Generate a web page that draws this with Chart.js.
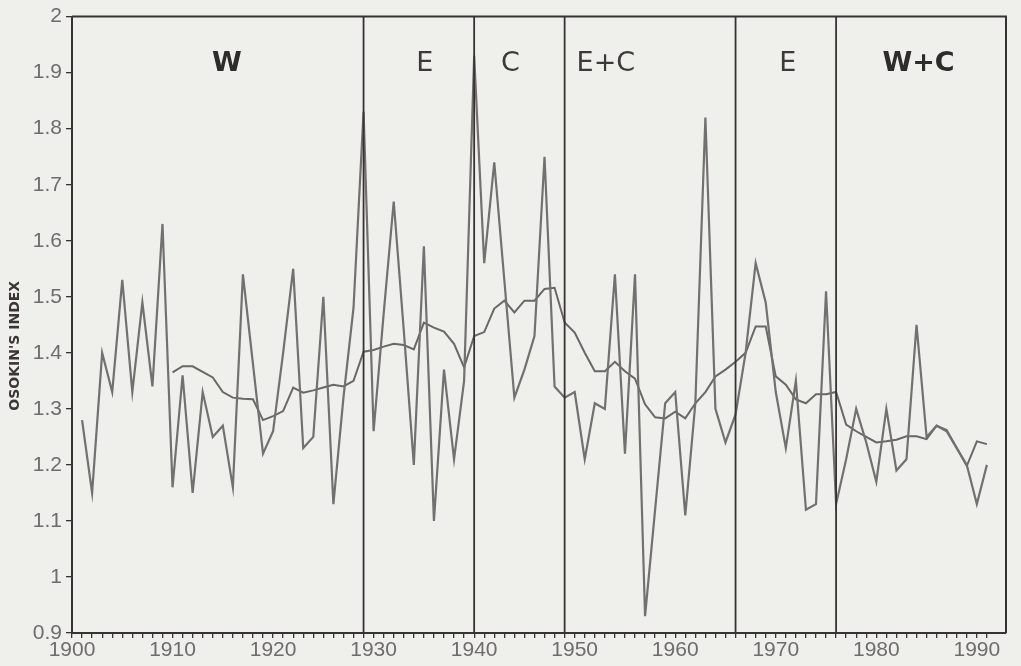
<!DOCTYPE html>
<html>
<head>
<meta charset="utf-8">
<script src="https://cdn.jsdelivr.net/npm/chart.js@4.4.1/dist/chart.umd.min.js"></script>
<style>
html,body{margin:0;padding:0;background:#efefeb;}
canvas{display:block;}
</style>
</head>
<body>
<canvas id="c" width="1021" height="666"></canvas>
<script>
// ---- data ----
const years = [
 1901,1902,1903,1904,1905,1906,1907,1908,1909,1910,
 1911,1912,1913,1914,1915,1916,1917,1918,1919,1920,
 1921,1922,1923,1924,1925,1926,1927,1928,1929,1930,
 1931,1932,1933,1934,1935,1936,1937,1938,1939,1940,
 1941,1942,1943,1944,1945,1946,1947,1948,1949,1950,
 1951,1952,1953,1954,1955,1956,1957,1958,1959,1960,
 1961,1962,1963,1964,1965,1966,1967,1968,1969,1970,
 1971,1972,1973,1974,1975,1976,1977,1978,1979,1980,
 1981,1982,1983,1984,1985,1986,1987,1988,1989,1990,
 1991
];
const osokinIndex = [
 1.28,1.15,1.40,1.33,1.53,1.33,1.49,1.34,1.63,1.16,
 1.36,1.15,1.33,1.25,1.27,1.16,1.54,1.38,1.22,1.26,
 1.40,1.55,1.23,1.25,1.50,1.13,1.32,1.48,1.83,1.26,
 1.47,1.67,1.44,1.20,1.59,1.10,1.37,1.21,1.35,1.93,
 1.56,1.74,1.53,1.32,1.37,1.43,1.75,1.34,1.32,1.33,
 1.21,1.31,1.30,1.54,1.22,1.54,0.93,1.12,1.31,1.33,
 1.11,1.31,1.82,1.30,1.24,1.29,1.40,1.56,1.49,1.33,
 1.23,1.35,1.12,1.13,1.51,1.13,1.21,1.30,1.24,1.17,
 1.30,1.19,1.21,1.45,1.25,1.27,1.26,1.23,1.20,1.13,
 1.20
];
const runningMean = [
 null,null,null,null,null,null,null,null,null,1.365,
 1.376,1.376,1.366,1.356,1.330,1.320,1.318,1.317,1.280,1.287,
 1.296,1.338,1.329,1.333,1.338,1.343,1.340,1.350,1.402,1.405,
 1.411,1.416,1.414,1.406,1.454,1.445,1.438,1.416,1.374,1.430,
 1.437,1.479,1.493,1.472,1.493,1.493,1.514,1.516,1.454,1.436,
 1.400,1.367,1.367,1.384,1.367,1.354,1.308,1.285,1.283,1.295,
 1.283,1.310,1.330,1.358,1.370,1.384,1.400,1.447,1.447,1.358,
 1.343,1.317,1.310,1.326,1.326,1.330,1.272,1.260,1.250,1.240,
 1.242,1.245,1.251,1.251,1.246,1.270,1.262,1.230,1.198,1.242,
 1.237
];
const xTickLabels = ['1900','1910','1920','1930','1940','1950','1960','1970','1980','1990'];
const yTickValues = [0.9,1,1.1,1.2,1.3,1.4,1.5,1.6,1.7,1.8,1.9,2];
const yTickLabels = ['0.9','1','1.1','1.2','1.3','1.4','1.5','1.6','1.7','1.8','1.9','2'];
const epochBoundaryYears = [1929, 1940, 1949, 1966, 1976];
const periodNames = ['W','E','C','E+C','E','W+C'];
const periodLabelYears = [1915.4, 1935.1, 1943.6, 1953.1, 1971.2, 1984.2];
const periodLabelLevel = 1.915;
const axisTitle = "OSOKIN'S INDEX";

// ---- drawing ----
const INK = '#383333';
const minorTickYears = [1900].concat(years);

const decorations = {
  id: 'decorations',
  beforeDraw(chart) {
    const c = chart.ctx;
    c.save();
    c.fillStyle = '#efefeb';
    c.fillRect(0, 0, chart.width, chart.height);
    c.restore();
  },
  afterDatasetsDraw(chart) {
    const c = chart.ctx, a = chart.chartArea;
    const xs = chart.scales.x, ys = chart.scales.y;
    c.save();
    // frame top + right
    c.strokeStyle = INK;
    c.lineWidth = 2;
    c.beginPath();
    c.moveTo(a.left, a.top);
    c.lineTo(a.right, a.top);
    c.lineTo(a.right, a.bottom);
    c.stroke();
    // epoch boundaries
    c.lineWidth = 1.8;
    epochBoundaryYears.forEach(yr => {
      const px = xs.getPixelForValue(yr);
      c.beginPath();
      c.moveTo(px, a.top);
      c.lineTo(px, a.bottom);
      c.stroke();
    });
    // period labels
    c.textAlign = 'center';
    c.textBaseline = 'middle';
    periodNames.forEach((name, i) => {
      const bold = name.startsWith('W');
      c.font = (bold ? 'bold ' : '') + '27px "DejaVu Sans", sans-serif';
      c.fillStyle = bold ? '#2e2b2b' : '#3d3939';
      c.fillText(name, xs.getPixelForValue(periodLabelYears[i]), ys.getPixelForValue(periodLabelLevel));
    });
    // y axis title
    c.translate(15, (a.top + a.bottom) / 2 + 21);
    c.rotate(-Math.PI / 2);
    c.font = 'bold 14px "DejaVu Sans", sans-serif';
    c.fillStyle = '#3a3636';
    c.fillText(axisTitle, 0, 0);
    c.restore();
  }
};

new Chart(document.getElementById('c'), {
  type: 'line',
  data: {
    datasets: [
      {
        label: 'Osokin index',
        data: years.map((yr, i) => ({x: yr, y: osokinIndex[i]})),
        borderColor: '#727070',
        borderWidth: 2.2,
        pointRadius: 0,
        tension: 0
      },
      {
        label: '10-year running mean',
        data: years.map((yr, i) => ({x: yr, y: runningMean[i]})),
        borderColor: '#6a6767',
        borderWidth: 2,
        pointRadius: 0,
        tension: 0,
        spanGaps: false
      }
    ]
  },
  options: {
    responsive: false,
    animation: false,
    events: [],
    layout: {padding: {left: 0, right: 15, top: 16, bottom: 0}},
    plugins: {legend: {display: false}, tooltip: {enabled: false}},
    scales: {
      x: {
        type: 'linear',
        min: 1900,
        max: 1992.9,
        afterBuildTicks: s => { s.ticks = minorTickYears.map(v => ({value: v})); },
        afterFit: s => { s.height = 33; },
        ticks: {
          autoSkip: false,
          maxRotation: 0,
          padding: 0,
          color: '#6e6c6c',
          font: {family: '"Liberation Sans", Arial, sans-serif', size: 21},
          callback: v => xTickLabels.includes(String(v)) ? String(v) : ''
        },
        grid: {drawOnChartArea: false, tickLength: 5, color: INK, lineWidth: 1.3},
        border: {color: INK, width: 2}
      },
      y: {
        min: 0.9,
        max: 2,
        afterBuildTicks: s => { s.ticks = yTickValues.map(v => ({value: v})); },
        afterFit: s => { s.width = 72; },
        ticks: {
          padding: 4,
          color: '#6e6c6c',
          font: {family: '"Liberation Sans", Arial, sans-serif', size: 21},
          callback: (v, i) => yTickLabels[i]
        },
        grid: {drawOnChartArea: false, tickLength: 6, color: INK, lineWidth: 1.3},
        border: {color: INK, width: 2}
      }
    }
  },
  plugins: [decorations]
});
</script>
</body>
</html>
